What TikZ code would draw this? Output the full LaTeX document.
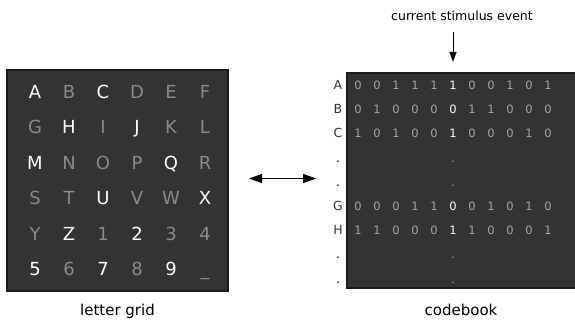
\documentclass[tikz,border=0pt]{standalone}
\usepackage{fontspec}
\setmainfont{DejaVu Sans}
\usetikzlibrary{arrows.meta}
\definecolor{boxfill}{HTML}{333333}
\definecolor{boxedge}{HTML}{1A1A1A}
\definecolor{dimtxt}{HTML}{8A8A8A}
\definecolor{cbdim}{HTML}{A6A6A6}
\definecolor{labtxt}{HTML}{333333}
\tikzset{
  panel/.style={fill=boxfill,draw=boxedge,line width=1.2pt},
  gridch/.style={inner sep=0pt,anchor=base,font=\fontsize{18}{18}\selectfont},
  cbch/.style={inner sep=0pt,anchor=base,font=\fontsize{11.5}{12}\selectfont},
  rowlab/.style={inner sep=0pt,anchor=base,text=labtxt,font=\fontsize{12.5}{13}\selectfont},
  caption/.style={inner sep=0pt,anchor=base,font=\fontsize{15}{16}\selectfont},
  conn/.style={line width=1.2pt},
}
\begin{document}
\begin{tikzpicture}[x=1pt,y=-1pt]
\useasboundingbox (0,0) rectangle (575,323);
% left panel
\path[panel] (7,70) rectangle (228,291);
\node (gridbox) at (117.5,180.5) {};
\foreach \ch/\b [count=\k from 0] in {A/1,B/0,C/1,D/0,E/0,F/0,
  G/0,H/1,I/0,J/1,K/0,L/0,
  M/1,N/0,O/0,P/0,Q/1,R/0,
  S/0,T/0,U/1,V/0,W/0,X/1,
  Y/0,Z/1,1/0,2/1,3/0,4/0,
  5/1,6/0,7/1,8/0,9/1,{\_}/0}{
  \pgfmathtruncatemacro\cc{mod(\k,6)}
  \pgfmathtruncatemacro\rr{int(\k/6)}
  \ifnum\b=1 \def\tc{white}\else\def\tc{dimtxt}\fi
  \node[gridch,text=\tc] (g\k) at (35+34*\cc,98.5+35.4*\rr) {\ch};
}
\node[caption] (lgcap) at (117.5,315) {letter grid};
% right panel
\path[panel] (347,73) rectangle (575.5,288);
\foreach \lab/\bits/\r in {A/{0,0,1,1,1,1,0,0,1,0,1}/0,
  B/{0,1,0,0,0,0,1,1,0,0,0}/1,
  C/{1,0,1,0,0,1,0,0,0,1,0}/2,
  G/{0,0,0,1,1,0,0,1,0,1,0}/5,
  H/{1,1,0,0,0,1,1,0,0,0,1}/6}{
  \node[rowlab] (r\lab) at (338,89.5+24.2*\r) {\lab};
  \foreach \bit [count=\c from 0] in \bits {
    \ifnum\c=5 \def\tc{white}\else\def\tc{cbdim}\fi
    \node[cbch,text=\tc] (c\lab\c) at (358+19*\c,89.5+24.2*\r) {\bit};
  }
}
\foreach \r in {3,4,7,8}{
  \node[rowlab,text=black] (d\r) at (338,89.5+24.2*\r) {.};
  \node[cbch,text=cbdim] (e\r) at (453,89.5+24.2*\r) {.};
}
\node[caption] (cbcap) at (461,315) {codebook};
% top label and arrow
\node[inner sep=0pt,anchor=base,font=\fontsize{12.5}{13}\selectfont] (evt) at (462,21) {current stimulus event};
\coordinate (evtarrow) at (453,62);
\draw[line width=1pt,-{Triangle[length=10pt,width=7pt]}] (453,32) -- (evtarrow);
% double arrow
\coordinate (la) at (249,178.5);
\coordinate (ra) at (316,178.5);
\draw[conn,{Triangle[length=13pt,width=9pt]}-{Triangle[length=13pt,width=9pt]}] (la) -- (ra);
\end{tikzpicture}
\end{document}
